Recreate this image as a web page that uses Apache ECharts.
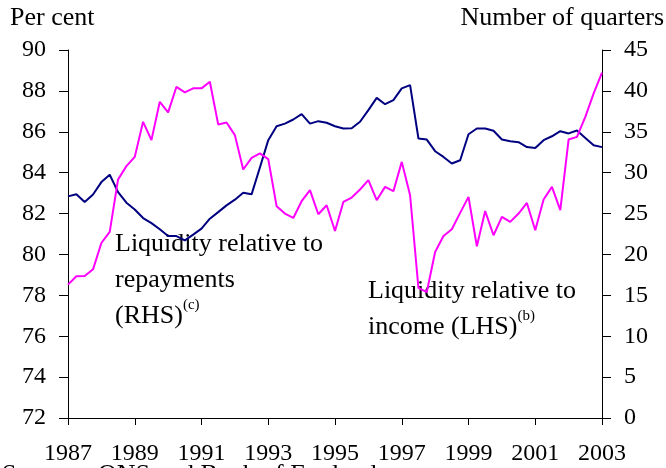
<!DOCTYPE html>
<html>
<head>
<meta charset="utf-8">
<script src="https://cdn.jsdelivr.net/npm/echarts@6/dist/echarts.min.js"></script>
<style>
  body { margin: 0; background: #fff; }
  #chart { width: 666px; height: 468px; }
</style>
</head>
<body>
<div id="chart"></div>
<script>
// quarterly, 1987 Q1 to 2003 Q1
const quarters = [];
for (let y = 1987; y <= 2003; y++) {
  for (let q = 1; q <= 4; q++) {
    if (y === 2003 && q > 1) break;
    quarters.push(y + ' Q' + q);
  }
}
const tickYears = ['1987', '1989', '1991', '1993', '1995', '1997', '1999', '2001', '2003'];

// liquidity relative to income, per cent (LHS)
const incomeLHS = [
  82.84, 82.94, 82.56, 82.93, 83.54, 83.90, 83.05, 82.53,
  82.20, 81.78, 81.53, 81.23, 80.90, 80.90, 80.69, 80.97,
  81.26, 81.75, 82.07, 82.40, 82.68, 83.02, 82.94, 84.25,
  85.59, 86.27, 86.40, 86.60, 86.86, 86.40, 86.52, 86.44,
  86.27, 86.16, 86.17, 86.49, 87.06, 87.66, 87.35, 87.55,
  88.12, 88.28, 85.67, 85.62, 85.05, 84.77, 84.45, 84.61,
  85.88, 86.16, 86.16, 86.05, 85.62, 85.54, 85.49, 85.25,
  85.21, 85.59, 85.78, 86.03, 85.92, 86.06, 85.70, 85.34,
  85.25
];

// liquidity relative to repayments, number of quarters (RHS)
const repaymentsRHS = [
  16.31, 17.33, 17.36, 18.18, 21.40, 22.75, 29.17, 30.80,
  31.93, 36.22, 33.98, 38.67, 37.37, 40.50, 39.82, 40.31,
  40.31, 41.12, 35.90, 36.14, 34.59, 30.39, 31.81, 32.35,
  31.65, 25.90, 25.00, 24.46, 26.51, 27.86, 24.92, 26.02,
  22.87, 26.42, 26.96, 27.94, 29.08, 26.63, 28.26, 27.73,
  31.32, 27.24, 15.90, 15.40, 20.30, 22.26, 23.08, 25.08,
  27.04, 21.00, 25.30, 22.35, 24.59, 23.98, 25.00, 26.30,
  22.96, 26.72, 28.26, 25.41, 34.06, 34.38, 36.83, 39.70,
  42.22
];

const font = 'Liberation Serif';
const isTick = (i) => i % 8 === 0;

let chart = echarts.init(document.getElementById('chart'), null, { renderer: 'canvas' });

const valueAxis = {
  type: 'value',
  splitLine: { show: false },
  axisLine: { show: true, lineStyle: { color: '#000', width: 1 } },
  axisTick: { show: true, length: 9, lineStyle: { color: '#000' } },
  axisLabel: { color: '#000', fontFamily: font, fontSize: 24, margin: 22 }
};

const option = {
  animation: false,
  backgroundColor: '#fff',
  grid: { left: 68, right: 64, top: 50, bottom: 50 },
  xAxis: {
    type: 'category',
    data: quarters,
    boundaryGap: false,
    axisLine: { lineStyle: { color: '#000', width: 1 } },
    axisTick: { interval: isTick, length: 7, lineStyle: { color: '#000' } },
    axisLabel: {
      interval: isTick,
      color: '#000', fontFamily: font, fontSize: 24, margin: 24,
      formatter: (v) => {
        const yr = v.slice(0, 4);
        return tickYears.indexOf(yr) >= 0 ? yr : '';
      }
    }
  },
  yAxis: [
    Object.assign({}, valueAxis, { min: 72, max: 90, interval: 2, position: 'left' }),
    Object.assign({}, valueAxis, { min: 0, max: 45, interval: 5, position: 'right' })
  ],
  series: [
    {
      name: 'Liquidity relative to income (LHS)',
      type: 'line',
      yAxisIndex: 0,
      data: incomeLHS,
      symbol: 'none',
      lineStyle: { color: '#000080', width: 2 }
    },
    {
      name: 'Liquidity relative to repayments (RHS)',
      type: 'line',
      yAxisIndex: 1,
      data: repaymentsRHS,
      symbol: 'none',
      lineStyle: { color: '#ff00ff', width: 2 }
    }
  ],
  graphic: [
    { type: 'text', left: 10, top: 5,
      style: { text: 'Per cent', font: '26px "Liberation Serif"', fill: '#000' } },
    { type: 'text', right: 2, top: 5,
      style: { text: 'Number of quarters', font: '26px "Liberation Serif"', fill: '#000' } },
    { type: 'text', left: 115, top: 231,
      style: {
        text: '{t|Liquidity relative to}\n{t|repayments}\n{t|(RHS)}{s|(c)}',
        rich: {
          t: { fontFamily: font, fontSize: 26, lineHeight: 36, fill: '#000' },
          s: { fontFamily: font, fontSize: 15, lineHeight: 36, verticalAlign: 'top', padding: [0, 0, 12, 0], fill: '#000' }
        }
      } },
    { type: 'text', left: 368, top: 278,
      style: {
        text: '{t|Liquidity relative to}\n{t|income (LHS)}{s|(b)}',
        rich: {
          t: { fontFamily: font, fontSize: 26, lineHeight: 36, fill: '#000' },
          s: { fontFamily: font, fontSize: 15, lineHeight: 36, verticalAlign: 'top', padding: [0, 0, 12, 0], fill: '#000' }
        }
      } },
    { type: 'text', left: 2, top: 462,
      style: { text: 'Sources: ONS and Bank of England.', font: '26px "Liberation Serif"', fill: '#000' } }
  ]
};

chart.setOption(option);
window.addEventListener('resize', () => { chart.resize(); });
</script>
</body>
</html>
